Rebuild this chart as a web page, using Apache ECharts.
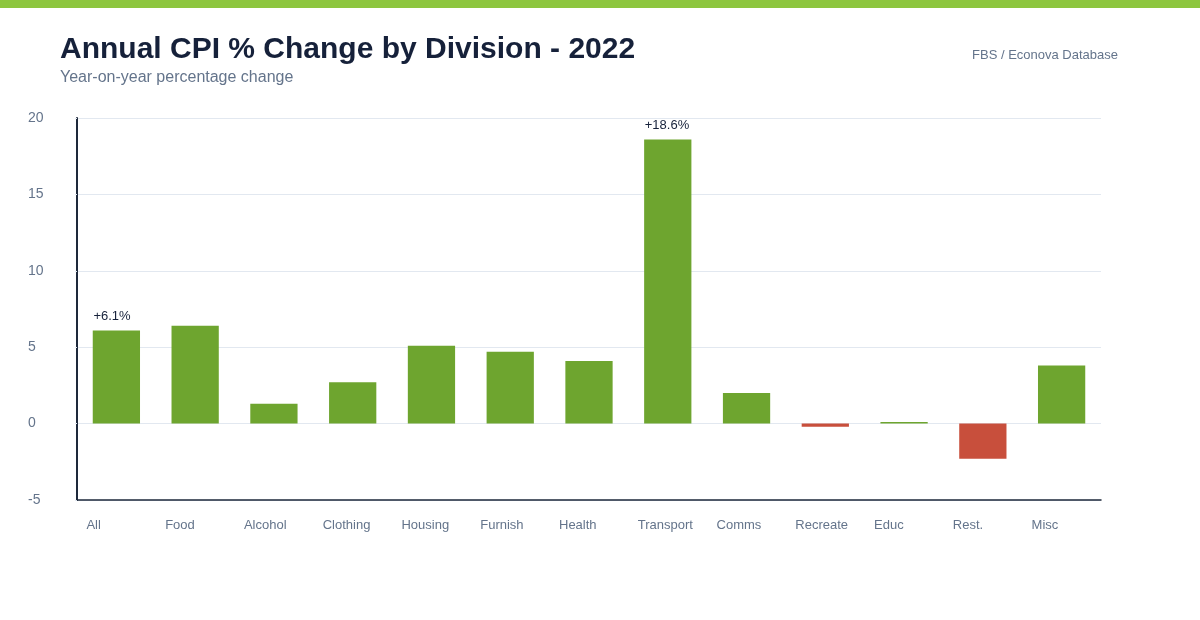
<!DOCTYPE html>
<html>
<head>
<meta charset="utf-8">
<title>Annual CPI % Change by Division - 2022</title>
<script src="https://cdn.jsdelivr.net/npm/echarts@6/dist/echarts.min.js"></script>
<style>
  html, body { margin: 0; padding: 0; background: #fff; }
  #chart { width: 1200px; height: 620px; }
</style>
</head>
<body>
<div id="chart"></div>
<script>
  // CPI divisions and annual % change, 2022
  const divisions = ['All', 'Food', 'Alcohol', 'Clothing', 'Housing', 'Furnish', 'Health',
    'Transport', 'Comms', 'Recreate', 'Educ', 'Rest.', 'Misc'];
  const changes = [6.1, 6.4, 1.3, 2.7, 5.1, 4.7, 4.1, 18.6, 2.0, -0.2, 0.1, -2.3, 3.8];
  const labelled = ['All', 'Transport'];
  const yTicks = [-5, 0, 5, 10, 15, 20];

  const green = '#6ea52f';
  const red = '#c84f3c';
  const grey = '#64748b';
  const navy = '#16213a';

  let chart = echarts.init(document.getElementById('chart'));

  let barData = changes.map((v, i) => ({
    value: v,
    itemStyle: { color: v < 0 ? red : green },
    label: { show: labelled.indexOf(divisions[i]) >= 0 }
  }));

  let option = {
    backgroundColor: '#fff',
    animation: false,
    graphic: [
      { type: 'rect', left: 0, top: 0, shape: { width: 1200, height: 8 }, style: { fill: '#8dc63f' } }
    ],
    title: [
      {
        text: 'Annual CPI % Change by Division - 2022',
        left: 60, top: 35, padding: 0,
        textStyle: { fontFamily: 'Liberation Sans, Arial', fontSize: 30, fontWeight: 'bold', color: navy }
      },
      {
        text: 'Year-on-year percentage change',
        left: 60, top: 70, padding: 0,
        textStyle: { fontFamily: 'Liberation Sans, Arial', fontSize: 16, fontWeight: 'normal', color: grey }
      },
      {
        text: 'FBS / Econova Database',
        right: 82, top: 49, padding: 0,
        textStyle: { fontFamily: 'Liberation Sans, Arial', fontSize: 13, fontWeight: 'normal', color: grey }
      }
    ],
    grid: { left: 77, right: 99, top: 118, bottom: 120, containLabel: false },
    xAxis: {
      type: 'category',
      data: divisions,
      axisLine: { onZero: false, lineStyle: { color: '#1e293b', width: 1.5 } },
      axisTick: { show: false },
      axisLabel: {
        color: grey, fontFamily: 'Liberation Sans, Arial', fontSize: 13,
        align: 'left', margin: 19, padding: [0, 0, 0, -30]
      }
    },
    yAxis: {
      type: 'value',
      min: yTicks[0], max: yTicks[yTicks.length - 1], interval: 5,
      axisLine: { show: true, lineStyle: { color: '#1e293b', width: 2 } },
      axisTick: { show: true, length: 2, lineStyle: { color: '#e2e8f0' } },
      splitLine: { lineStyle: { color: '#e2e8f0', width: 1 } },
      axisLabel: {
        color: grey, fontFamily: 'Liberation Sans, Arial', fontSize: 14,
        align: 'left', margin: 49
      }
    },
    series: [
      {
        type: 'bar',
        data: barData,
        barWidth: '60%',
        label: {
          position: 'top', distance: 7, align: 'left', offset: [-23, 0],
          color: navy, fontFamily: 'Liberation Sans, Arial', fontSize: 13,
          formatter: p => (p.value > 0 ? '+' : '') + p.value.toFixed(1) + '%'
        }
      }
    ]
  };

  chart.setOption(option);
</script>
</body>
</html>
